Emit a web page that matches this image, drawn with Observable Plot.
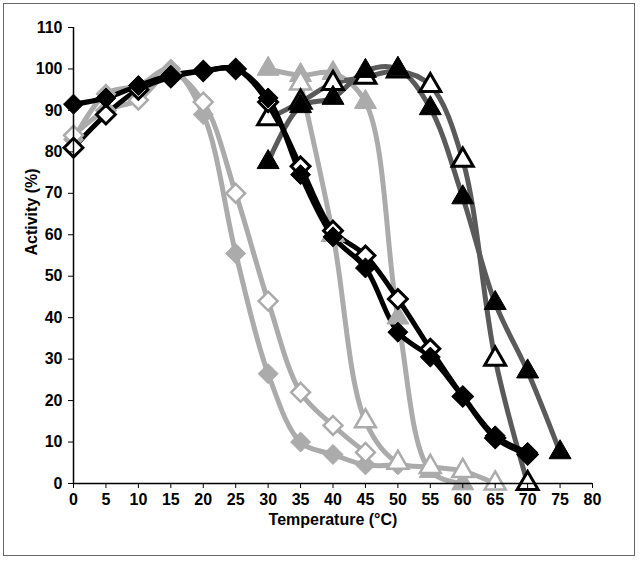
<!DOCTYPE html>
<html><head><meta charset="utf-8">
<script src="https://cdn.jsdelivr.net/npm/d3@7"></script>
<script src="https://cdn.jsdelivr.net/npm/@observablehq/plot@0.6"></script>
<style>
body{margin:0;background:#fff}
#chart{position:relative;width:640px;height:562px}
#frame{position:absolute;left:3px;top:3px;width:630px;height:551px;border:1.5px solid #666;pointer-events:none}
</style>
</head><body><div id="chart"><div id="frame"></div></div>
<script>
// Temperatures (°C)
const tA = [0,5,10,15,20,25,30,35,40,45,50,55,60,65,70];
const vA = [91.5,93,96,98.5,99.5,100,93,74.5,59.5,52,36.5,30.5,21,11.5,7.5];       // black filled diamonds
const tB = [0,5,10,15,20,25,30,35,40,45,50,55,60,65,70];
const vB = [81,89,95,98,99.5,100,92,76.5,61,55,44.5,32.5,21,11,7];                // black open diamonds
const tC = [0,5,10,15,20,25,30,35,40,45,50];
const vC = [83,94,96,100,89,55.5,26.5,10,7,4.5,4.5];                               // gray filled diamonds
const tD = [0,5,10,15,20,25,30,35,40,45];
const vD = [84,90,92.5,99,92,70,44,22,14,7.5];                                     // gray open diamonds
const tE = [30,35,40,45,50,55,60];
const vE = [100,98.5,99,92,40,3,0];                                                // gray filled triangles
const tH = [35,40,45,50,55,60,65];
const vH = [96.5,60,15,5,4,3,0];                                                   // gray open triangles
const tG = [30,35,40,45,50,55,60,65,70,75];
const vG = [77.5,91,93,99.5,100,90.5,69,43.5,27,7.5];                              // black filled triangles
const tF = [30,35,40,45,50,55,60,65,70];
const vF = [88,92,96.5,98,99.5,96,78,30,0];                                        // black open triangles

const xTicks = [0,5,10,15,20,25,30,35,40,45,50,55,60,65,70,75,80];
const yTicks = [0,10,20,30,40,50,60,70,80,90,100,110];

const LG = "#ababab", DG = "#5a5a5a";
const series = [
  {t:tC, v:vC, line:LG, sym:"diamond2", fill:LG, stroke:LG, sw:1, r:9},
  {t:tD, v:vD, line:LG, sym:"diamond2", fill:"white", stroke:LG, sw:2.5, r:8.5},
  {t:tE, v:vE, line:LG, sym:"triangle2", fill:LG, stroke:LG, sw:1, r:10.5},
  {t:tH, v:vH, line:LG, sym:"triangle2", fill:"white", stroke:LG, sw:2.5, r:10},
  {t:tF, v:vF, line:DG, sym:"triangle2", fill:"white", stroke:"black", sw:3, r:10},
  {t:tG, v:vG, line:DG, sym:"triangle2", fill:"black", stroke:"black", sw:1, r:10.5},
  {t:tB, v:vB, line:"black", sym:"diamond2", fill:"white", stroke:"black", sw:3, r:8.5},
  {t:tA, v:vA, line:"black", sym:"diamond2", fill:"black", stroke:"black", sw:1, r:9},
];
const rows = s => s.t.map((t,i)=>({t, v:s.v[i]}));

const lineMarks = series.map(s => Plot.line(rows(s), {x:"t", y:"v", curve:"catmull-rom", stroke:s.line, strokeWidth:5, strokeLinejoin:"round"}));
const dotMarks = series.map(s => Plot.dot(rows(s), {x:"t", y:"v", symbol:s.sym, r:s.r, fill:s.fill, stroke:s.stroke, strokeWidth:s.sw}));

const font = "Liberation Sans, Arial, sans-serif";
const chart = Plot.plot({
  width:640, height:562,
  marginLeft:73, marginRight:48, marginTop:27, marginBottom:79,
  style:{fontFamily:font, background:"transparent", overflow:"visible"},
  x:{domain:[0,80]},
  y:{domain:[0,110]},
  marks:[
    ...lineMarks,
    ...dotMarks,
    Plot.ruleX([0], {stroke:"black", strokeWidth:1.5}),
    Plot.ruleY([0], {stroke:"black", strokeWidth:1.5}),
    Plot.axisX({ticks:xTicks, tickSize:5, tickPadding:5, fontSize:16, fontWeight:"bold", fill:"black", stroke:"black", label:null}),
    Plot.axisY({ticks:yTicks, tickSize:5, tickPadding:6, fontSize:16, fontWeight:"bold", fill:"black", stroke:"black", label:null}),
    Plot.text(["Temperature (°C)"], {frameAnchor:"bottom", dy:41, fontSize:16, fontWeight:"bold", fill:"black"}),
    Plot.text(["Activity (%)"], {frameAnchor:"left", dx:-42, rotate:-90, fontSize:16, fontWeight:"bold", fill:"black"})
  ]
});
document.getElementById("chart").prepend(chart);
</script>
</body></html>
